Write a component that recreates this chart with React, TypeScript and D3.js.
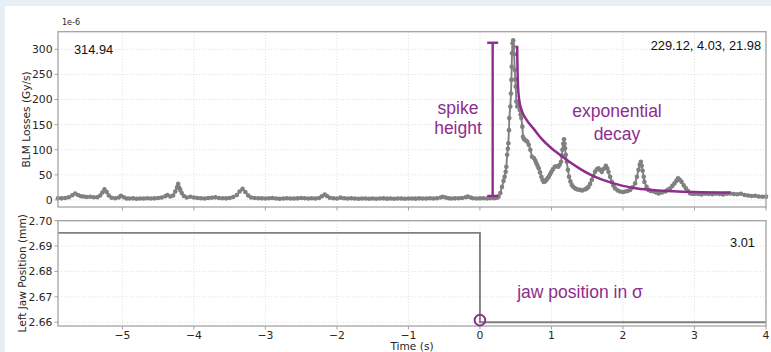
import React from 'react';
import * as d3 from 'd3';

// ---- data ----
const blmLoss: [number, number][] = [
  [-5.9, 3.5], [-5.85, 3.2], [-5.8, 3.8], [-5.75, 5.5], [-5.7, 9.5], [-5.66, 13], [-5.62, 10], [-5.58, 7.5],
  [-5.54, 7], [-5.5, 6], [-5.45, 6.5], [-5.4, 5.5], [-5.35, 5.5], [-5.31, 9], [-5.28, 15], [-5.25, 21],
  [-5.22, 16], [-5.19, 9], [-5.15, 4.5], [-5.1, 3.5], [-5.05, 5], [-5.02, 8.5], [-4.98, 5.5], [-4.94, 3],
  [-4.9, 2.8], [-4.85, 3.2], [-4.8, 2.5], [-4.75, 3], [-4.7, 2.8], [-4.65, 3.5], [-4.6, 3], [-4.55, 3.2],
  [-4.5, 4], [-4.45, 5], [-4.4, 7.5], [-4.37, 10], [-4.33, 7], [-4.29, 9], [-4.26, 17], [-4.235, 25],
  [-4.22, 32], [-4.205, 24], [-4.19, 20], [-4.17, 14], [-4.14, 8], [-4.1, 5], [-4.05, 6.5], [-4.0, 5],
  [-3.95, 4], [-3.9, 3.5], [-3.85, 3], [-3.8, 3.8], [-3.75, 4.5], [-3.7, 5.2], [-3.65, 4], [-3.6, 3.5],
  [-3.55, 3.2], [-3.5, 4], [-3.45, 6], [-3.4, 10], [-3.36, 17], [-3.32, 22], [-3.28, 16], [-3.24, 9],
  [-3.2, 5], [-3.15, 4], [-3.1, 3.5], [-3.05, 3.2], [-3.0, 3], [-2.95, 3.5], [-2.9, 4], [-2.85, 3],
  [-2.8, 2.5], [-2.75, 3], [-2.7, 3.5], [-2.65, 3], [-2.6, 2.8], [-2.55, 3.2], [-2.5, 4], [-2.45, 3.5],
  [-2.4, 3], [-2.35, 3.5], [-2.3, 3], [-2.25, 4], [-2.21, 7.5], [-2.17, 11], [-2.14, 8], [-2.1, 4.5],
  [-2.05, 3.5], [-2.0, 3], [-1.95, 4.6], [-1.9, 3.5], [-1.85, 3], [-1.8, 3.5], [-1.75, 3], [-1.7, 2.5],
  [-1.65, 3], [-1.6, 2.8], [-1.55, 2.5], [-1.5, 3], [-1.45, 2.5], [-1.4, 2.8], [-1.35, 3.2], [-1.3, 2.6],
  [-1.25, 3], [-1.2, 2.5], [-1.15, 2.8], [-1.1, 3], [-1.05, 2.5], [-1.0, 2.8], [-0.95, 3], [-0.9, 2.6],
  [-0.85, 3.2], [-0.8, 2.8], [-0.75, 3], [-0.7, 3.4], [-0.65, 3], [-0.6, 3.5], [-0.55, 5], [-0.52, 6.5],
  [-0.48, 5], [-0.44, 3.5], [-0.4, 3], [-0.35, 3.2], [-0.3, 3.5], [-0.25, 4], [-0.2, 5.5], [-0.17, 6.6],
  [-0.13, 5], [-0.1, 3.5], [-0.05, 3], [0.0, 3.2], [0.05, 3.5], [0.1, 3], [0.15, 3.4], [0.2, 3.5],
  [0.24, 4.5], [0.26, 6.6], [0.285, 14], [0.308, 26], [0.33, 38], [0.345, 46], [0.36, 56], [0.369, 66],
  [0.38, 90], [0.39, 102], [0.397, 113], [0.406, 139], [0.41, 163], [0.425, 186], [0.434, 212], [0.44, 239],
  [0.444, 265], [0.448, 292], [0.457, 312], [0.465, 318], [0.472, 305], [0.478, 290], [0.486, 259], [0.494, 240],
  [0.5, 226], [0.509, 196], [0.522, 186], [0.532, 190], [0.542, 189], [0.556, 179], [0.568, 170], [0.579, 163],
  [0.593, 146], [0.602, 126], [0.614, 122], [0.626, 120], [0.645, 118], [0.663, 116], [0.682, 110], [0.705, 100],
  [0.728, 86], [0.756, 83], [0.775, 78], [0.789, 73], [0.805, 68], [0.822, 63], [0.84, 55], [0.859, 46],
  [0.875, 40], [0.892, 36], [0.91, 37], [0.929, 40], [0.945, 43], [0.962, 46], [0.98, 51], [0.999, 56],
  [1.02, 61], [1.046, 66], [1.07, 67], [1.097, 66], [1.115, 70], [1.134, 76], [1.145, 88], [1.153, 100],
  [1.165, 112], [1.176, 121], [1.183, 112], [1.19, 103], [1.2, 90], [1.214, 76], [1.23, 60], [1.246, 46],
  [1.265, 37], [1.284, 30], [1.305, 26], [1.33, 23], [1.36, 21], [1.4, 20], [1.43, 19], [1.47, 21],
  [1.495, 23], [1.517, 26], [1.54, 32], [1.564, 40], [1.585, 48], [1.61, 56], [1.635, 61], [1.657, 63],
  [1.68, 60], [1.704, 56], [1.73, 62], [1.76, 68], [1.78, 63], [1.797, 56], [1.82, 46], [1.844, 36],
  [1.865, 29], [1.89, 23], [1.925, 19], [1.96, 17], [2.0, 16], [2.03, 17], [2.065, 18], [2.1, 20],
  [2.135, 25], [2.17, 33], [2.195, 46], [2.217, 60], [2.235, 70], [2.25, 76], [2.262, 68], [2.275, 58],
  [2.29, 46], [2.3, 36], [2.33, 26], [2.357, 20], [2.39, 18], [2.43, 17], [2.465, 15], [2.5, 13],
  [2.545, 15], [2.59, 17], [2.625, 20], [2.66, 23], [2.69, 28], [2.72, 33], [2.745, 38], [2.77, 43],
  [2.795, 40], [2.82, 36], [2.85, 29], [2.88, 23], [2.91, 18], [2.94, 13], [2.98, 12], [3.02, 12.5],
  [3.06, 12], [3.1, 11], [3.15, 12.5], [3.2, 12], [3.25, 11.5], [3.3, 12.5], [3.35, 12], [3.4, 11],
  [3.45, 12.5], [3.5, 13], [3.55, 12], [3.6, 11.5], [3.65, 12.5], [3.7, 10], [3.75, 9], [3.8, 8],
  [3.85, 8.5], [3.9, 7], [3.95, 6.5], [4.0, 6.6],
];

const decayFit: [number, number][] = [
  [0.52, 307], [0.525, 262], [0.532, 228], [0.548, 200], [0.58, 180], [0.65, 160], [0.75, 142],
  [0.86, 122], [1.0, 103], [1.12, 90], [1.25, 76], [1.4, 62], [1.55, 50], [1.7, 41], [1.85, 34],
  [2.0, 28], [2.2, 23], [2.45, 19.5], [2.7, 17.5], [3.0, 16], [3.5, 15],
];

const jawPosition: [number, number][] = [[-5.9, 2.6952], [0, 2.6952], [0, 2.66], [4, 2.66]];
const jawMarker: [number, number] = [0, 2.6608];

const spikeBar = { t: 0.178, low: 8, high: 313 };

const xTicks = [-5, -4, -3, -2, -1, 0, 1, 2, 3, 4];
const blmTicks = [0, 50, 100, 150, 200, 250, 300];
const jawTicks = [2.66, 2.67, 2.68, 2.69, 2.7];

const peakLabel = '314.94';
const fitLabel = '229.12, 4.03, 21.98';
const sigmaLabel = '3.01';

const PURPLE = '#8e2d8e';
const GRAY = '#808080';
const SPINE = '#a3a3a3';
const GRID = '#d4d4d4';
const TICKFONT = 'DejaVu Sans, sans-serif';
const ANNOFONT = 'Liberation Sans, Arial, sans-serif';

export default function App() {
  const W = 771, H = 352;
  const x = d3.scaleLinear().domain([-5.9, 4]).range([58, 766]);
  const yTop = d3.scaleLinear().domain([-14, 335]).range([207, 31.7]);
  const yBot = d3.scaleLinear().domain([2.6585, 2.7]).range([326, 220.7]);

  const lineTop = d3.line<[number, number]>().x(d => x(d[0])).y(d => yTop(d[1]));
  const lineBot = d3.line<[number, number]>().x(d => x(d[0])).y(d => yBot(d[1]));
  const fitLine = d3.line<[number, number]>().x(d => x(d[0])).y(d => yTop(d[1])).curve(d3.curveMonotoneX);

  const [x0, x1] = x.range();
  const topR = yTop.range();
  const botR = yBot.range();

  const fmtJaw = d3.format('.2f');
  const fmtX = (v: number) => (v < 0 ? '\u2212' + Math.abs(v) : String(v));

  return (
    <svg width={W} height={H} style={{ position: 'absolute', left: 0, top: 0, display: 'block' }}>
      <rect x={0} y={0} width={W} height={H} fill="#e8eef6" />
      <rect x={5} y={6} width={W - 5} height={H - 6} fill="#ffffff" />

      {/* grids */}
      <g stroke={GRID} strokeWidth={0.7} strokeDasharray="1.2 1.8">
        {xTicks.map(t => (
          <line key={'gt' + t} x1={x(t)} x2={x(t)} y1={topR[1]} y2={topR[0]} />
        ))}
        {blmTicks.map(t => (
          <line key={'gy' + t} x1={x0} x2={x1} y1={yTop(t)} y2={yTop(t)} />
        ))}
        {xTicks.map(t => (
          <line key={'gb' + t} x1={x(t)} x2={x(t)} y1={botR[1]} y2={botR[0]} />
        ))}
        {jawTicks.map(t => (
          <line key={'gj' + t} x1={x0} x2={x1} y1={yBot(t)} y2={yBot(t)} />
        ))}
      </g>

      {/* top data */}
      <path d={lineTop(blmLoss) || ''} fill="none" stroke={GRAY} strokeWidth={1.9} strokeLinejoin="round" />
      <g fill={GRAY}>
        {blmLoss.map((d, i) => (
          <circle key={i} cx={x(d[0])} cy={yTop(d[1])} r={2.3} />
        ))}
      </g>

      {/* bottom data */}
      <path d={lineBot(jawPosition) || ''} fill="none" stroke={GRAY} strokeWidth={1.9} />

      {/* spines */}
      <rect x={x0} y={topR[1]} width={x1 - x0} height={topR[0] - topR[1]} fill="none" stroke={SPINE} strokeWidth={1.3} />
      <rect x={x0} y={botR[1]} width={x1 - x0} height={botR[0] - botR[1]} fill="none" stroke={SPINE} strokeWidth={1.3} />

      {/* ticks */}
      <g stroke={SPINE} strokeWidth={1}>
        {xTicks.map(t => (
          <line key={'tt' + t} x1={x(t)} x2={x(t)} y1={topR[0]} y2={topR[0] + 3.5} />
        ))}
        {xTicks.map(t => (
          <line key={'tb' + t} x1={x(t)} x2={x(t)} y1={botR[0]} y2={botR[0] + 3.5} />
        ))}
        {blmTicks.map(t => (
          <line key={'ty' + t} x1={x0 - 3.5} x2={x0} y1={yTop(t)} y2={yTop(t)} />
        ))}
        {jawTicks.map(t => (
          <line key={'tj' + t} x1={x0 - 3.5} x2={x0} y1={yBot(t)} y2={yBot(t)} />
        ))}
      </g>

      {/* tick labels */}
      <g fontFamily={TICKFONT} fontSize={10.8} fill="#262626">
        {blmTicks.map(t => (
          <text key={'ly' + t} x={x0 - 5.5} y={yTop(t)} dy="0.36em" textAnchor="end">{t}</text>
        ))}
        {jawTicks.map(t => (
          <text key={'lj' + t} x={x0 - 5.5} y={yBot(t)} dy="0.36em" textAnchor="end">{fmtJaw(t)}</text>
        ))}
        {xTicks.map(t => (
          <text key={'lx' + t} x={x(t)} y={338.5} textAnchor="middle">{fmtX(t)}</text>
        ))}
        <text x={62} y={25} fontSize={8}>1e-6</text>
        <text transform={`translate(29.5,${(topR[0] + topR[1]) / 2}) rotate(-90)`} textAnchor="middle" fontSize={10.6}>BLM Losses (Gy/s)</text>
        <text transform={`translate(26,${(botR[0] + botR[1]) / 2}) rotate(-90)`} textAnchor="middle" fontSize={10.6}>Left Jaw Position (mm)</text>
        <text x={(x0 + x1) / 2} y={350} textAnchor="middle" fontSize={10.6}>Time (s)</text>
      </g>

      {/* numeric annotations */}
      <g fontFamily={ANNOFONT} fontSize={12.8} fill="#111">
        <text x={74} y={54}>{peakLabel}</text>
        <text x={761} y={50} textAnchor="end">{fitLabel}</text>
        <text x={755} y={246.5} textAnchor="end">{sigmaLabel}</text>
      </g>

      {/* purple annotations */}
      <g stroke={PURPLE} fill="none" strokeWidth={2.4}>
        <line x1={x(spikeBar.t)} x2={x(spikeBar.t)} y1={yTop(spikeBar.high)} y2={yTop(spikeBar.low)} />
        <line x1={x(spikeBar.t) - 5.5} x2={x(spikeBar.t) + 5.5} y1={yTop(spikeBar.high)} y2={yTop(spikeBar.high)} />
        <line x1={x(spikeBar.t) - 5.5} x2={x(spikeBar.t) + 5.5} y1={yTop(spikeBar.low)} y2={yTop(spikeBar.low)} />
        <path d={fitLine(decayFit) || ''} strokeWidth={2.5} />
        <circle cx={x(jawMarker[0])} cy={yBot(jawMarker[1])} r={5.3} strokeWidth={2} />
      </g>
      <g fontFamily={ANNOFONT} fontSize={17.5} fill={PURPLE} textAnchor="middle">
        <text x={458} y={113.5}>spike</text>
        <text x={458} y={133.5}>height</text>
        <text x={617} y={117}>exponential</text>
        <text x={617} y={139.5}>decay</text>
        <text x={580} y={297.5}>jaw position in σ</text>
      </g>
    </svg>
  );
}
